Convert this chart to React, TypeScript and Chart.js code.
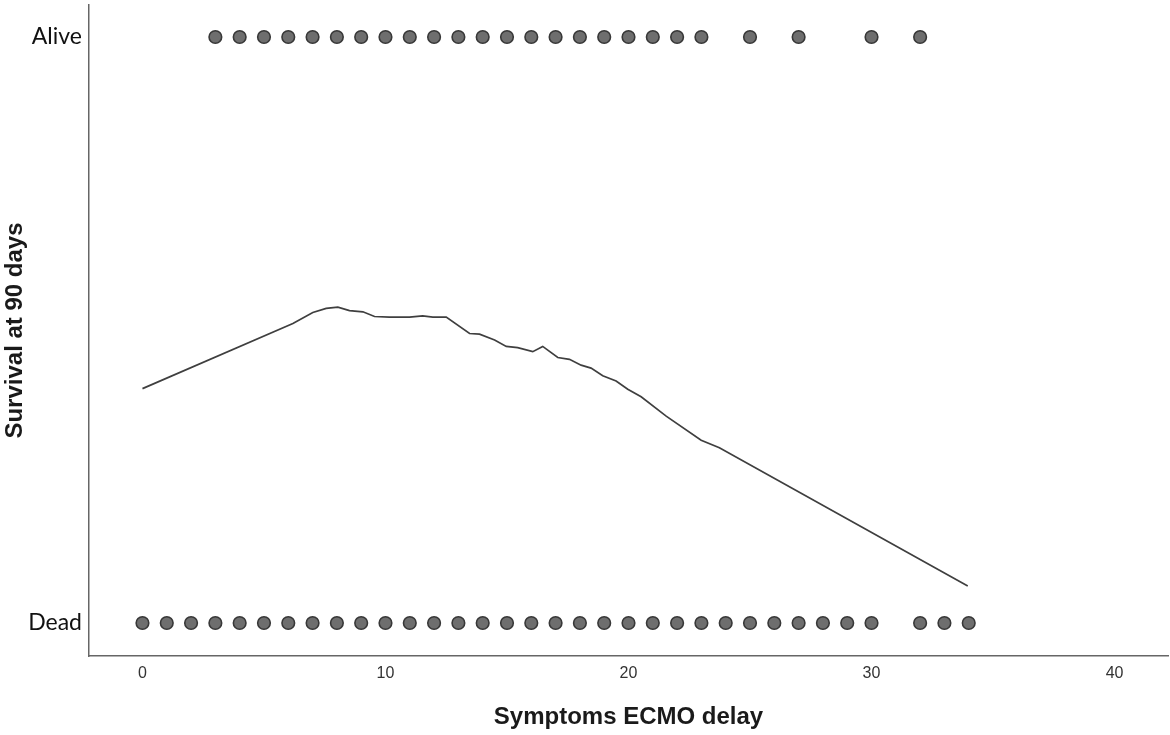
import React, { useEffect, useRef } from "react";
import { Chart, registerables } from "chart.js";

Chart.register(...registerables);

const aliveDelays = [3, 4, 5, 6, 7, 8, 9, 10, 11, 12, 13, 14, 15, 16, 17, 18, 19, 20, 21, 22, 23, 25, 27, 30, 32];
const deadDelays = [0, 1, 2, 3, 4, 5, 6, 7, 8, 9, 10, 11, 12, 13, 14, 15, 16, 17, 18, 19, 20, 21, 22, 23, 24, 25, 26, 27, 28, 29, 30, 32, 33, 34];

const fitX = [0, 6.19, 7.01, 7.56, 8.04, 8.52, 9.07, 9.55, 10.16, 10.99, 11.53, 11.95, 12.5, 13.46, 13.87, 14.49, 14.97, 15.44, 16.06, 16.47, 17.09, 17.57, 18.05, 18.46, 18.94, 19.49, 19.97, 20.52, 21.55, 22.99, 23.74, 33.96];
const fitY = [0.4, 0.511, 0.53, 0.537, 0.539, 0.533, 0.531, 0.523, 0.522, 0.522, 0.524, 0.522, 0.522, 0.494, 0.493, 0.483, 0.472, 0.47, 0.463, 0.472, 0.453, 0.45, 0.44, 0.435, 0.422, 0.413, 0.399, 0.386, 0.353, 0.312, 0.299, 0.063];

const xTicks = [0, 10, 20, 30, 40];
const yTickLabels = ["Dead", "Alive"];

export default function App() {
  const ref = useRef<HTMLCanvasElement | null>(null);

  useEffect(() => {
    if (!ref.current) return;
    const pointStyle = {
      type: "scatter" as const,
      pointRadius: 6.3,
      pointHoverRadius: 6.3,
      pointBackgroundColor: "#6e6e6e",
      pointBorderColor: "#383838",
      pointBorderWidth: 1.6,
      showLine: false,
    };
    const chart = new Chart(ref.current, {
      type: "scatter",
      data: {
        datasets: [
          {
            ...pointStyle,
            label: "Alive",
            data: aliveDelays.map((x) => ({ x, y: 1 })),
          },
          {
            ...pointStyle,
            label: "Dead",
            data: deadDelays.map((x) => ({ x, y: 0 })),
          },
          {
            type: "line" as const,
            label: "Fit",
            data: fitX.map((x, i) => ({ x, y: fitY[i] })),
            borderColor: "#3f3f3f",
            borderWidth: 1.7,
            pointRadius: 0,
            tension: 0,
            fill: false,
          },
        ],
      },
      options: {
        responsive: false,
        animation: false,
        layout: { autoPadding: false, padding: { top: 5, right: 2, bottom: 0, left: 0 } },
        plugins: { legend: { display: false }, tooltip: { enabled: false } },
        scales: {
          x: {
            type: "linear",
            min: -2.2,
            max: 42.2,
            grid: { display: false, drawTicks: false },
            border: { display: true, color: "#666666", width: 1.5 },
            afterBuildTicks: (s: any) => {
              s.ticks = xTicks.map((v) => ({ value: v }));
            },
            afterFit: (s: any) => {
              s.height = 79;
              s.paddingLeft = 0;
              s.paddingRight = 0;
            },
            ticks: {
              padding: 8,
              color: "#333333",
              font: { family: "Liberation Sans, Arial", size: 16 },
              maxRotation: 0,
            },
            title: {
              display: true,
              text: "Symptoms ECMO delay",
              color: "#1a1a1a",
              font: { family: "Liberation Sans, Arial", size: 24, weight: "bold", lineHeight: 1.2 },
              padding: { top: 0, bottom: 3 },
            },
          },
          y: {
            type: "linear",
            min: -0.0563,
            max: 1.0546,
            grid: { display: false, drawTicks: false },
            border: { display: true, color: "#666666", width: 1.5 },
            afterBuildTicks: (s: any) => {
              s.ticks = [{ value: 0 }, { value: 1 }];
            },
            afterFit: (s: any) => {
              s.width = 89;
              s.paddingTop = 0;
              s.paddingBottom = 0;
            },
            ticks: {
              padding: 7,
              color: "#111111",
              font: { family: "Lato", size: 23 },
              callback: (v: any) => (v === 0 ? yTickLabels[0] : v === 1 ? yTickLabels[1] : ""),
            },
            title: {
              display: true,
              text: "Survival at 90 days",
              color: "#1a1a1a",
              font: { family: "Liberation Sans, Arial", size: 24, weight: "bold", lineHeight: 1.2 },
              padding: { top: 1, bottom: 0 },
            },
          },
        },
      },
    });
    return () => chart.destroy();
  }, []);

  return (
    <div style={{ position: "fixed", left: 0, top: 0, width: 1170, height: 735, background: "#ffffff" }}>
      <canvas ref={ref} width={1170} height={735} />
    </div>
  );
}
